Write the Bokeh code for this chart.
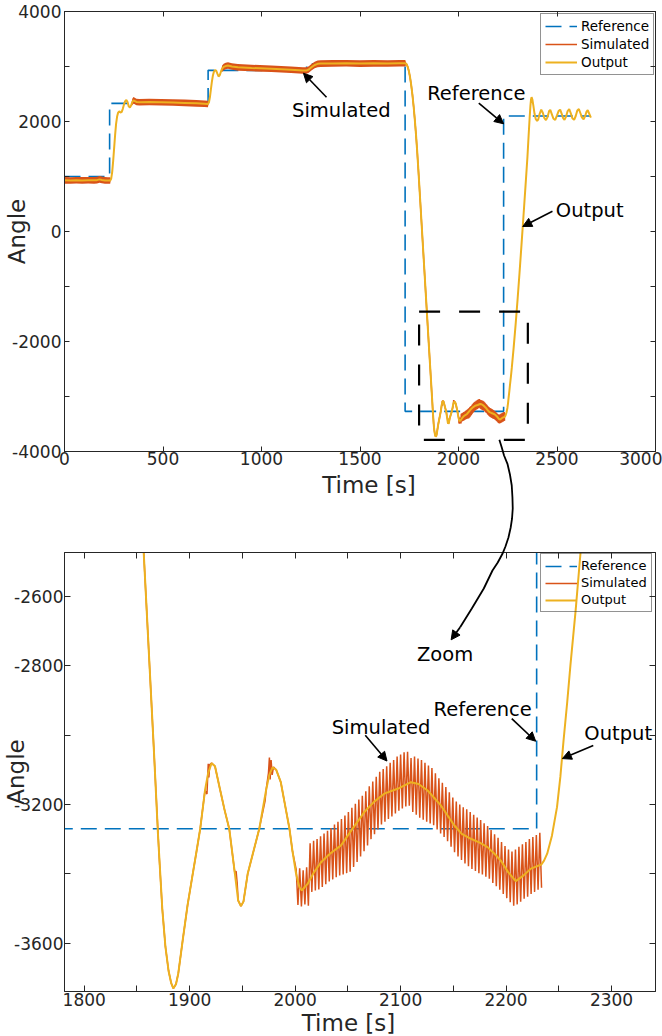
import numpy as np
from bokeh.plotting import figure
from bokeh.layouts import column
from bokeh.models import (Range1d, FixedTicker, LinearAxis, Legend, LegendItem,
                          Label, Arrow, NormalHead, CustomLabelingPolicy)
from bokeh.embed import file_html
from bokeh.resources import INLINE

# ---------------------------------------------------------------- data
# reference set-point (value held from each time onwards)
ref_t = [0, 229, 729, 1229, 1729, 2229, 2672]
ref_v = [1000, 2330, 2930, 3050, -3270, 2100, 2100]

# measured output angle
out_t = [0, 30, 60, 90, 120, 150, 165, 178, 190, 205, 220, 232,
         237, 242, 247, 252, 257, 262, 267, 272, 278, 284, 290, 296, 302, 308, 314, 320, 326, 332, 338, 344, 350, 357, 365,
         380, 430, 490, 550, 610, 670, 710, 728,
         733, 738, 743, 748, 753, 758, 764, 770, 776, 782, 788, 794, 800, 808, 818, 830,
         850, 880, 950, 1050, 1150, 1210, 1228, 1240, 1255, 1270, 1285, 1300, 1360, 1430, 1500, 1570, 1640, 1700, 1730,
         1736, 1742, 1748, 1754, 1760, 1766, 1772, 1778, 1784, 1790, 1798, 1806, 1816, 1826, 1838, 1848, 1856.5, 1866, 1870, 1874, 1877, 1880, 1882.5, 1884.5,
         1887, 1889.2, 1893.4, 1898, 1902.9, 1906.5, 1910, 1914.5, 1917.5, 1920.8, 1924, 1929, 1933, 1937.5, 1942.9, 1946, 1948.6, 1951, 1955, 1960, 1966, 1972.4, 1975.5, 1978.6, 1982, 1986.4, 1990, 1994.6, 1997.5, 2000.9, 2004, 2006.3,
         2012, 2018, 2025, 2033, 2043.5, 2054, 2065.6, 2075, 2084.5, 2097.2, 2109.8, 2117, 2125.6, 2138.2, 2150.8, 2158, 2166.6, 2175, 2182.4, 2189, 2195, 2202, 2209.2, 2216, 2223.6, 2233.5,
         2236, 2239, 2243.5, 2248.3, 2251.5, 2254.5, 2258, 2261, 2266, 2270.6, 2280, 2290, 2300, 2310, 2320, 2330, 2340, 2350, 2356, 2361, 2365, 2368, 2371, 2375, 2380, 2386, 2392, 2399,
         2405, 2412, 2420, 2428, 2436, 2444, 2452, 2460, 2466, 2474, 2482, 2491, 2500, 2508, 2516, 2524, 2531, 2538, 2546, 2554, 2562, 2570, 2578, 2587, 2595, 2603, 2611, 2619, 2627, 2635, 2643, 2650, 2656, 2664, 2672]
out_v = [930, 928, 931, 929, 932, 930, 934, 948, 938, 929, 926, 927,
         960, 1080, 1280, 1520, 1760, 1960, 2090, 2160, 2185, 2165, 2170, 2230, 2310, 2370, 2392, 2355, 2275, 2255, 2290, 2355, 2385, 2372, 2355,
         2350, 2354, 2350, 2345, 2338, 2330, 2322, 2318,
         2345, 2440, 2580, 2720, 2830, 2900, 2935, 2925, 2870, 2820, 2840, 2905, 2960, 2992, 3008, 3018,
         3000, 2985, 2972, 2960, 2940, 2928, 2926, 2945, 2990, 3028, 3048, 3053, 3056, 3058, 3053, 3057, 3055, 3060, 3060,
         3044, 2996, 2917, 2806, 2663, 2488, 2282, 2044, 1775, 1474, 1020, 540, -60, -660, -1380, -1980, -2480, -3040, -3290, -3500, -3610, -3680, -3715, -3730,
         -3718, -3687, -3591, -3490, -3400, -3335, -3270, -3160, -3110, -3081, -3090, -3160, -3215, -3270, -3400, -3477, -3493, -3480, -3400, -3341, -3270, -3160, -3115, -3093, -3100, -3136, -3195, -3270, -3335, -3400, -3438, -3448,
         -3428, -3395, -3365, -3342, -3318, -3272, -3222, -3192, -3169, -3155, -3136, -3141, -3160, -3203, -3260, -3285, -3299, -3310, -3323, -3342, -3362, -3395, -3421, -3406, -3385, -3373,
         -3362, -3342, -3290, -3208, -3120, -3016, -2905, -2800, -2640, -2475, -2110, -1690, -1230, -740, -230, 290, 820, 1360, 1750, 2060, 2280, 2400, 2442, 2400, 2290, 2140, 2045, 2010,
         2040, 2140, 2215, 2160, 2060, 2025, 2080, 2190, 2210, 2130, 2050, 2030, 2110, 2190, 2215, 2140, 2060, 2030, 2090, 2190, 2225, 2150, 2060, 2030, 2100, 2200, 2225, 2150, 2070, 2040, 2100, 2180, 2205, 2140, 2070]

# simulated angle, hold phases: envelope of the fast ripple (lower / upper edge)
band_t = [0, 30, 60, 90, 120, 150, 165, 178, 190, 205, 220, 232, 236,
          338, 344, 350, 357, 365, 380, 430, 490, 550, 610, 670, 710, 728, 733,
          794, 800, 808, 818, 830, 850, 880, 950, 1050, 1150, 1210, 1228, 1240, 1255, 1270, 1285, 1300, 1360, 1430, 1500, 1570, 1640, 1700, 1730, 1736]
band_lo = [870, 868, 871, 869, 872, 870, 874, 888, 878, 869, 866, 867, 953,
           2290, 2295, 2325, 2312, 2295, 2290, 2294, 2290, 2285, 2278, 2270, 2262, 2258, 2345,
           2905, 2900, 2932, 2948, 2958, 2940, 2925, 2912, 2900, 2880, 2868, 2866, 2885, 2930, 2968, 2988, 2993, 2996, 2998, 2993, 2997, 2995, 3000, 3000, 3044]
band_hi = [990, 988, 991, 989, 992, 990, 994, 1008, 998, 989, 986, 987, 953,
           2290, 2415, 2445, 2432, 2415, 2410, 2414, 2410, 2405, 2398, 2390, 2382, 2378, 2345,
           2905, 3020, 3052, 3068, 3078, 3060, 3045, 3032, 3020, 3000, 2988, 2986, 3005, 3050, 3088, 3108, 3113, 3116, 3118, 3113, 3117, 3115, 3120, 3120, 3044]
band_segments = [(0, 13), (13, 27), (27, 52)]

# simulated angle, drop and first swings
sim_t = [1730, 1736, 1742, 1748, 1754, 1760, 1766, 1772, 1778, 1784, 1790, 1798, 1806, 1816, 1826, 1838, 1848, 1856.5, 1866, 1871, 1874, 1877, 1880, 1882.5, 1884.5,
         1887, 1889.2, 1893.4, 1898, 1902.9, 1906.5, 1910, 1914.5, 1916.4, 1917.6, 1918.2, 1919, 1920.8, 1924, 1929, 1933, 1937.5, 1942.9, 1944, 1945, 1946, 1948.6, 1951, 1955, 1960, 1966, 1971.5, 1972.4, 1974.7, 1975.6, 1976.3, 1977.2, 1978.2, 1979.5, 1982, 1986.4, 1990, 1994.6, 1997.5]
sim_v = [3060, 3044, 2996, 2917, 2806, 2663, 2488, 2282, 2044, 1775, 1474, 1020, 540, -60, -660, -1380, -1980, -2480, -3040, -3345, -3500, -3610, -3680, -3715, -3730,
         -3718, -3687, -3591, -3490, -3400, -3335, -3270, -3160, -3170, -3083, -3122, -3085, -3081, -3090, -3160, -3215, -3270, -3400, -3392, -3425, -3477, -3493, -3480, -3400, -3341, -3270, -3190, -3160, -3110, -3065, -3128, -3072, -3115, -3092, -3100, -3136, -3195, -3270, -3335]

# simulated angle, chattering phase: upper and lower tip of every ripple cycle
tip_start, tip_period = 2001.0, 3.3
tip_hi = [-3388, -3384, -3390, -3381, -3312, -3305, -3300, -3292, -3284, -3276,
          -3268, -3258, -3250, -3242, -3232, -3222, -3210, -3198, -3186, -3175,
          -3162, -3148, -3134, -3120, -3106, -3098, -3090, -3080, -3072, -3062,
          -3056, -3050, -3048, -3066, -3062, -3068, -3072, -3080, -3088, -3095,
          -3110, -3125, -3138, -3150, -3165, -3180, -3192, -3200, -3208, -3214,
          -3222, -3230, -3238, -3245, -3254, -3262, -3274, -3286, -3296, -3308,
          -3320, -3330, -3336, -3330, -3322, -3315, -3308, -3300, -3294, -3288,
          -3282]
tip_lo = [-3490, -3494, -3488, -3492, -3452, -3448, -3445, -3438, -3430, -3422,
          -3416, -3410, -3405, -3402, -3398, -3394, -3380, -3366, -3350, -3335,
          -3318, -3300, -3286, -3272, -3258, -3250, -3242, -3235, -3226, -3218,
          -3212, -3206, -3204, -3222, -3230, -3238, -3244, -3250, -3255, -3260,
          -3272, -3284, -3294, -3306, -3322, -3338, -3350, -3360, -3370, -3378,
          -3386, -3392, -3398, -3402, -3408, -3414, -3426, -3436, -3446, -3458,
          -3470, -3482, -3492, -3488, -3480, -3472, -3466, -3458, -3452, -3446,
          -3440]

# axis ticks: labelled (major) and unlabelled (minor) positions
top_xticks, top_xminor = [0, 500, 1000, 1500, 2000, 2500, 3000], []
top_yticks, top_yminor = [-4000, -2000, 0, 2000, 4000], [-3000, -1000, 1000, 3000]
bot_xticks, bot_xminor = [1800, 1900, 2000, 2100, 2200, 2300], [1850, 1950, 2050, 2150, 2250]
bot_yticks, bot_yminor = [-3600, -3200, -2800, -2600], [-3400, -3000]

# ---------------------------------------------------------------- assembled simulated trace
tip_times = tip_start + tip_period * np.arange(len(tip_hi))
zz_t = np.column_stack([tip_times, tip_times + tip_period / 2]).ravel()
zz_v = np.column_stack([tip_hi, tip_lo]).ravel()
sim_full_t = np.concatenate([sim_t, zz_t])
sim_full_v = np.concatenate([sim_v, zz_v])

FONT = "DejaVu Sans"
AXC = "#262626"
C_REF, C_SIM, C_OUT = "#0072BD", "#D95319", "#EDB120"


def style_axes(p, xt, xm, yt, ym, tick, xstand, ystand, ylab_standoff):
    p.xgrid.visible = False
    p.ygrid.visible = False
    p.outline_line_color = AXC
    p.background_fill_color = "white"
    p.border_fill_color = "white"
    p.xaxis.ticker = FixedTicker(ticks=xt, minor_ticks=xm)
    p.yaxis.ticker = FixedTicker(ticks=yt, minor_ticks=ym)
    # plain hyphen-minus in the labels
    p.xaxis.major_label_overrides = {t: str(t) for t in xt}
    p.yaxis.major_label_overrides = {t: str(t) for t in yt}
    for ax in (p.xaxis[0], p.yaxis[0]):
        ax.major_tick_in = tick
        ax.major_tick_out = 0
        ax.minor_tick_in = tick
        ax.minor_tick_out = 0
        ax.axis_line_color = AXC
        ax.major_tick_line_color = AXC
        ax.minor_tick_line_color = AXC
        ax.major_label_text_font = FONT
        ax.major_label_text_font_size = "17px"
        ax.major_label_text_color = AXC
    p.xaxis.major_label_standoff = xstand
    p.yaxis.major_label_standoff = ystand
    # y title tucked in next to the tick labels
    yax = p.yaxis[0]
    yax.axis_label = "Angle"
    yax.axis_label_text_font = FONT
    yax.axis_label_text_font_size = "23px"
    yax.axis_label_text_font_style = "normal"
    yax.axis_label_text_color = AXC
    yax.axis_label_standoff = ylab_standoff
    for loc, tk, mn in (("above", xt, xm), ("right", yt, ym)):
        ax = LinearAxis(ticker=FixedTicker(ticks=tk, minor_ticks=mn),
                        major_tick_in=tick, major_tick_out=0,
                        minor_tick_in=tick, minor_tick_out=0,
                        major_label_text_font_size="0px", major_label_standoff=0,
                        major_label_policy=CustomLabelingPolicy(code="return new Set()"),
                        axis_line_color=AXC, major_tick_line_color=AXC, minor_tick_line_color=AXC)
        p.add_layout(ax, loc)


def add_legend(p, items, loc, size):
    leg = Legend(items=items, location=loc, margin=0, padding=4, spacing=2,
                 glyph_width=32, glyph_height=14, label_height=14, label_standoff=4,
                 label_text_font=FONT, label_text_font_size=size, label_text_color="black",
                 border_line_color=AXC, border_line_width=1,
                 background_fill_color="white", background_fill_alpha=0.0)
    p.add_layout(leg)


def note(p, x, y, text, size="19.5px", color="black", **kw):
    # y is the bottom of the text box
    p.add_layout(Label(x=x, y=y, text=text, text_font=FONT, text_font_size=size,
                       text_color=color, text_baseline="bottom", **kw))


def pointer(p, x0, y0, x1, y1):
    p.add_layout(Arrow(end=NormalHead(size=9, fill_color="black", line_color="black"),
                       x_start=x0, y_start=y0, x_end=x1, y_end=y1,
                       line_color="black", line_width=1.6))


# ---------------------------------------------------------------- full run
p1 = figure(width=662, height=500, x_range=Range1d(0, 3000), y_range=Range1d(-4000, 4000),
            output_backend="svg", toolbar_location=None,
            min_border_left=62, min_border_right=7, min_border_top=11, min_border_bottom=49)
style_axes(p1, top_xticks, top_xminor, top_yticks, top_yminor, 5, 0, 3, -21)

r1_ref = p1.step(ref_t, ref_v, mode="after", line_color=C_REF, line_width=1.6, line_dash="16 8")
for a, b in band_segments:
    p1.varea(x=band_t[a:b], y1=band_lo[a:b], y2=band_hi[a:b], fill_color=C_SIM)
r1_sim = p1.line(sim_full_t, sim_full_v, line_color=C_SIM, line_width=1.5)
r1_out = p1.line(out_t, out_v, line_color=C_OUT, line_width=2)

# zoom window
p1.quad(left=[1800], right=[2352], bottom=[-3787], top=[-1455], fill_alpha=0,
        line_color="black", line_width=2.2, line_dash="21 19")

add_legend(p1, [LegendItem(label="Reference", renderers=[r1_ref]),
                LegendItem(label="Simulated", renderers=[r1_sim]),
                LegendItem(label="Output", renderers=[r1_out])], (476, 376), "13.5px")

note(p1, 1155, 1989, "Simulated")
pointer(p1, 1330, 2442, 1213, 2878)
note(p1, 1841, 2298, "Reference")
pointer(p1, 2103, 2333, 2229, 1958)
note(p1, 2494, 165, "Output")
pointer(p1, 2477, 369, 2326, 91)

# ---------------------------------------------------------------- zoomed window
p2 = figure(width=662, height=536, x_range=Range1d(1781.3, 2341.7), y_range=Range1d(-3739, -2474.2),
            output_backend="svg", toolbar_location=None,
            min_border_left=63, min_border_right=7, min_border_top=52, min_border_bottom=45)
style_axes(p2, bot_xticks, bot_xminor, bot_yticks, bot_yminor, 6, 1, 1, -18)

r2_ref = p2.step(ref_t, ref_v, mode="after", line_color=C_REF, line_width=1.6, line_dash="16 8")
r2_sim = p2.line(sim_full_t, sim_full_v, line_color=C_SIM, line_width=1.5)
r2_out = p2.line(out_t, out_v, line_color=C_OUT, line_width=2)

add_legend(p2, [LegendItem(label="Reference", renderers=[r2_ref]),
                LegendItem(label="Simulated", renderers=[r2_sim]),
                LegendItem(label="Output", renderers=[r2_out])], (476, 379), "13px")

note(p2, 2115.5, -2800.6, "Zoom")
note(p2, 2131.3, -2960, "Reference")
pointer(p2, 2205.4, -2953, 2228.1, -3018)
note(p2, 2034.7, -3012.7, "Simulated")
pointer(p2, 2066.5, -3001, 2087.1, -3075)
note(p2, 2274.2, -3029.1, "Output")
pointer(p2, 2282.7, -3030, 2253.4, -3068)

# ---------------------------------------------------------------- page layer
# transparent page-sized layer in page pixels (y downwards); its frame spans the same
# columns as the two panels, so the x range is given in those page pixels
ov = figure(width=662, height=1036, x_range=Range1d(63, 655), y_range=Range1d(1036, 0),
            x_axis_type=None, y_axis_type=None, output_backend="svg", toolbar_location=None,
            min_border_left=63, min_border_right=7, min_border_top=0, min_border_bottom=0,
            margin=(-1036, 0, 0, 0))
ov.outline_line_color = None
ov.background_fill_alpha = 0
ov.border_fill_alpha = 0

link_x = [498.6, 501.0, 503.3, 506.7, 509.2, 511.0, 511.7, 512.0, 511.3, 510.0, 507.7, 504.7,
          501.7, 497.0, 491.7, 483.0, 471.0, 459.3]
link_y = [439.3, 447.0, 455.0, 463.3, 474.0, 485.0, 496.7, 508.0, 518.0, 526.7, 537.0, 546.0,
          553.3, 562.0, 570.0, 588.0, 608.0, 626.7]
ov.line(link_x, link_y, line_color="black", line_width=1.8)
ov.add_layout(Arrow(end=NormalHead(size=9, fill_color="black", line_color="black"),
                    x_start=459.3, y_start=626.7, x_end=450.3, y_end=639.3,
                    line_color="black", line_width=1.8))

for cx, by in ((368, 497.9), (347.5, 1035.4)):
    note(ov, cx, by, "Time [s]", size="23px", color=AXC, text_align="center")

layout = column(p1, p2, ov, spacing=0)
open("out.html", "w").write(file_html(layout, INLINE))
